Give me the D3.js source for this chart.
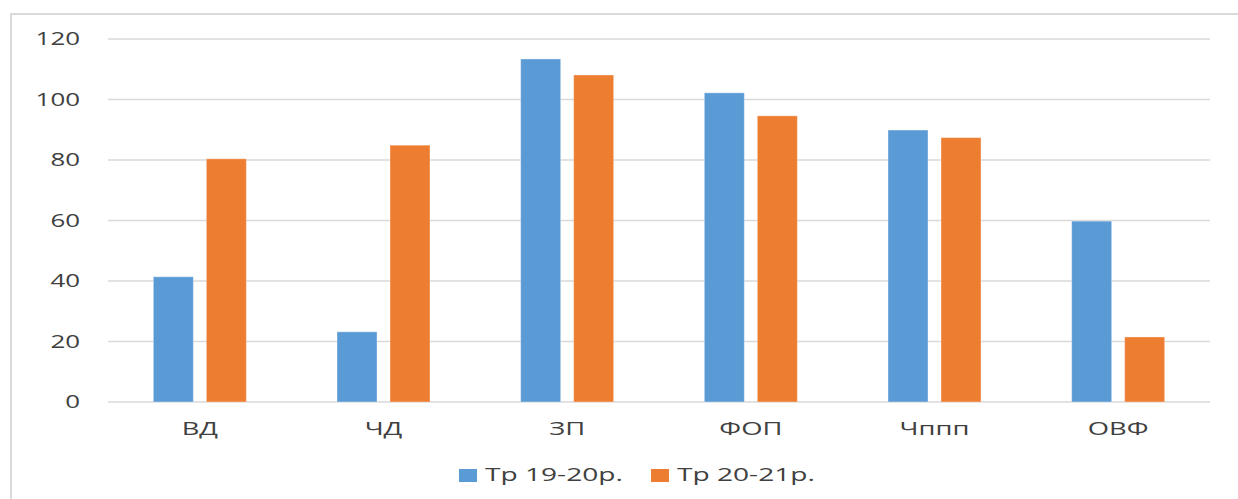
<!DOCTYPE html>
<html>
<head>
<meta charset="utf-8">
<script src="https://cdn.jsdelivr.net/npm/d3@7"></script>
<style>
  html, body { margin: 0; padding: 0; background: #fff; }
  svg { display: block; }
  text { font-family: "Open Sans", "Liberation Sans", sans-serif; fill: #404040; }
</style>
</head>
<body>
<svg id="chart" width="1238" height="499"></svg>
<script>
const categories = ["ВД", "ЧД", "ЗП", "ФОП", "Чппп", "ОВФ"];
const seriesNames = ["Тр 19-20р.", "Тр 20-21р."];
const series1 = [41.4, 23.2, 113.4, 102.2, 89.9, 59.8];
const series2 = [80.4, 84.9, 108.1, 94.6, 87.4, 21.5];
const yTicks = [0, 20, 40, 60, 80, 100, 120];
const colors = ["#5B9BD5", "#ED7D31"];

const W = 1238, H = 499;
const plot = { left: 108, right: 1210, top: 39, bottom: 402 };
const SX = 1.48;

const svg = d3.select("#chart");

// outer chart border (extends beyond right/bottom edges)
svg.append("rect")
  .attr("x", 11).attr("y", 14)
  .attr("width", W + 20).attr("height", H + 20)
  .attr("fill", "none").attr("stroke", "#d9d9d9").attr("stroke-width", 2);

const x = d3.scaleBand().domain(categories).range([plot.left, plot.right]).paddingInner(0).paddingOuter(0);
const y = d3.scaleLinear().domain([0, 120]).range([plot.bottom, plot.top]);
const step = x.bandwidth();
const xs = d3.scaleBand().domain(seriesNames)
  .range([step / 2 - 46.5, step / 2 + 46.5]).paddingInner(13 / 53).paddingOuter(0);

// gridlines
svg.append("g").selectAll("line").data(yTicks).join("line")
  .attr("x1", plot.left).attr("x2", plot.right)
  .attr("y1", d => y(d)).attr("y2", d => y(d))
  .attr("stroke", "#d9d9d9").attr("stroke-width", 1.5);

// y labels
svg.append("g").selectAll("text").data(yTicks).join("text")
  .attr("transform", d => `translate(80,${y(d)}) scale(${SX},1)`)
  .attr("text-anchor", "end").attr("dy", "0.36em")
  .attr("font-size", 17.5)
  .text(d => d);

// bars
const data = categories.map((c, i) => ({ c, vals: [series1[i], series2[i]] }));
const groups = svg.append("g").selectAll("g").data(data).join("g")
  .attr("transform", d => `translate(${x(d.c)},0)`);
groups.selectAll("rect").data(d => d.vals.map((v, k) => ({ v, k }))).join("rect")
  .attr("x", d => xs(seriesNames[d.k]))
  .attr("width", xs.bandwidth())
  .attr("y", d => y(d.v))
  .attr("height", d => y(0) - y(d.v))
  .attr("fill", d => colors[d.k])
  .attr("stroke", "#ffffff").attr("stroke-opacity", 0.35).attr("stroke-width", 1);

// category labels
svg.append("g").selectAll("text").data(categories).join("text")
  .attr("transform", d => `translate(${x(d) + step / 2},435) scale(${SX},1)`)
  .attr("text-anchor", "middle")
  .attr("font-size", 18.5)
  .text(d => d);

// legend
const legendPos = [459, 651];
const lg = svg.append("g").selectAll("g").data(seriesNames).join("g");
lg.append("rect")
  .attr("x", (d, i) => legendPos[i]).attr("y", 469)
  .attr("width", 18).attr("height", 13)
  .attr("fill", (d, i) => colors[i]);
lg.append("text")
  .attr("transform", (d, i) => `translate(${legendPos[i] + 26},481) scale(${SX},1)`)
  .attr("font-size", 19)
  .text(d => d);
</script>
</body>
</html>
